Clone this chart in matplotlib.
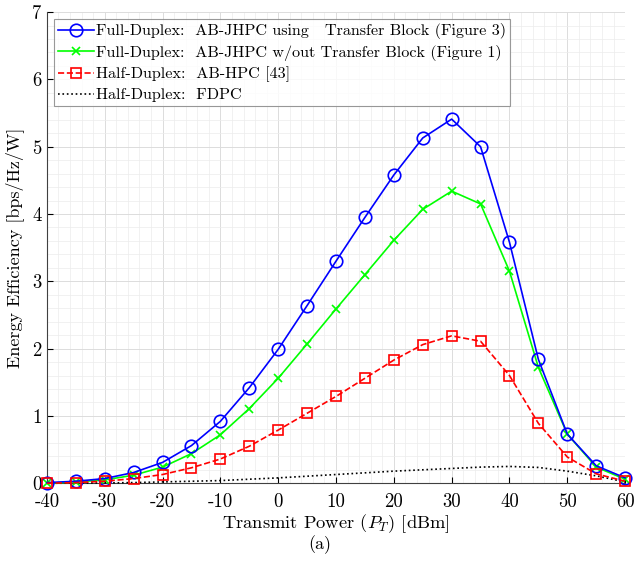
import matplotlib
matplotlib.use("Agg")
import matplotlib.pyplot as plt
import numpy as np

plt.rcParams['font.family'] = ['cmr10', 'DejaVu Serif']
plt.rcParams['mathtext.fontset'] = 'cm'
plt.rcParams['axes.unicode_minus'] = False
plt.rcParams['axes.formatter.use_mathtext'] = False

x = [-40, -35, -30, -25, -20, -15, -10, -5, 0, 5, 10, 15, 20, 25, 30, 35, 40, 45, 50, 55, 60]
fd_tb = [0.01, 0.03, 0.07, 0.16, 0.31, 0.56, 0.92, 1.42, 1.99, 2.64, 3.30, 3.95, 4.58, 5.13, 5.41, 5.00, 3.58, 1.84, 0.73, 0.26, 0.08]
fd_notb = [0.0, 0.02, 0.05, 0.12, 0.24, 0.44, 0.72, 1.11, 1.56, 2.07, 2.59, 3.10, 3.61, 4.07, 4.34, 4.15, 3.15, 1.72, 0.73, 0.24, 0.06]
hd_hpc = [0.0, 0.01, 0.03, 0.07, 0.13, 0.23, 0.36, 0.55, 0.79, 1.04, 1.29, 1.56, 1.83, 2.06, 2.19, 2.11, 1.60, 0.89, 0.39, 0.14, 0.03]
hd_fdpc = [0.0, 0.002, 0.005, 0.01, 0.02, 0.03, 0.04, 0.06, 0.08, 0.105, 0.13, 0.155, 0.18, 0.20, 0.22, 0.24, 0.25, 0.235, 0.18, 0.11, 0.02]

labels = ['Full-Duplex:  AB-JHPC using   Transfer Block (Figure 3)',
          'Full-Duplex:  AB-JHPC w/out Transfer Block (Figure 1)',
          'Half-Duplex:  AB-HPC [43]',
          'Half-Duplex:  FDPC']
xticks = [-40, -30, -20, -10, 0, 10, 20, 30, 40, 50, 60]
xticklabels = ['-40', '-30', '-20', '-10', '0', '10', '20', '30', '40', '50', '60']

fig = plt.figure(figsize=(6.34, 5.76), dpi=100)
ax = fig.add_axes([0.074, 0.161, 0.912, 0.818])

ax.plot(x, fd_tb, '-o', color='#0000ff', lw=1.2, ms=9, mfc='none', mew=1.2, label=labels[0], clip_on=False, zorder=5)
ax.plot(x, fd_notb, '-x', color='#00ff00', lw=1.2, ms=6, mew=1.2, label=labels[1], clip_on=False, zorder=4)
ax.plot(x, hd_hpc, '--s', color='#ff0000', lw=1.2, ms=6.5, mfc='none', mew=1.2, label=labels[2], clip_on=False, zorder=6)
ax.plot(x, hd_fdpc, ':', color='black', lw=1.2, label=labels[3], clip_on=False, zorder=3)

ax.set_xlim(-40, 60)
ax.set_ylim(0, 7)
ax.set_xticks(xticks)
ax.set_xticklabels(xticklabels)
ax.set_yticks(np.arange(0, 8, 1))
ax.set_yticklabels([str(v) for v in range(8)])
ax.set_xticks(np.arange(-40, 61, 2), minor=True)
ax.set_yticks(np.arange(0, 7.01, 0.2), minor=True)
ax.grid(True, which='major', color='#dcdcdc', lw=0.7)
ax.grid(True, which='minor', color='#ececec', lw=0.5)
ax.set_axisbelow(True)
ax.tick_params(which='both', direction='in', labelsize=13.5, length=4)
ax.tick_params(axis='x', which='major', pad=7)
ax.tick_params(axis='y', which='major', pad=4)
ax.tick_params(which='minor', length=0)
for s in ['top', 'right']:
    ax.spines[s].set_visible(False)
for s in ['left', 'bottom']:
    ax.spines[s].set_color('#404040')

ax.set_xlabel('Transmit Power ($P_T$) [dBm]', fontsize=13.3, labelpad=1)
ax.set_ylabel('Energy Efficiency [bps/Hz/W]', fontsize=13, labelpad=6)

leg = ax.legend(loc='upper left', fontsize=11.6, frameon=True, fancybox=False,
                edgecolor='#808080', handlelength=2.2, handletextpad=0.15,
                borderpad=0.25, labelspacing=0.35, borderaxespad=0.45)
leg.get_frame().set_linewidth(0.8)

fig.text(0.505, 0.054, '(a)', ha='center', va='center', fontsize=13)

fig.savefig('out.png', dpi=100)
